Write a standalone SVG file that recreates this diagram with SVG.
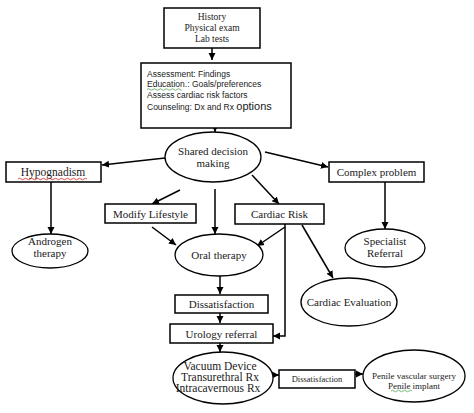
<svg xmlns="http://www.w3.org/2000/svg" width="474" height="413" viewBox="0 0 474 413">
<style>
.box{fill:#fff;stroke:#000;stroke-width:1.5}
.ell{fill:#fff;stroke:#000;stroke-width:1.3}
.t{font-family:"Liberation Serif","Times New Roman",serif;font-size:11px;fill:#1a1a1a;text-anchor:middle}
.s{font-family:"Liberation Sans",Arial,sans-serif;font-size:8.5px;fill:#1a1a1a}
.c{fill:none;stroke:#000;stroke-width:1.5}
</style>
<defs>
<marker id="ah" markerUnits="userSpaceOnUse" markerWidth="8" markerHeight="8" refX="7" refY="4" orient="auto">
<path d="M0,0.5 L7,4 L0,7.5 z" fill="#000"/>
</marker>
</defs>
<rect width="474" height="413" fill="#fff"/>
<g id="connectors">
<path class="c" d="M212,48 L212,60" marker-end="url(#ah)"/>
<path class="c" d="M215,126 L215,132" marker-end="url(#ah)"/>
<path class="c" d="M165,158 L102,165" marker-end="url(#ah)"/>
<path class="c" d="M265,152 L328,167" marker-end="url(#ah)"/>
<path class="c" d="M180,190 L152,204" marker-end="url(#ah)"/>
<path class="c" d="M215,189 L215,234" marker-end="url(#ah)"/>
<path class="c" d="M252,175 L279,204" marker-end="url(#ah)"/>
<path class="c" d="M51,182 L51,234" marker-end="url(#ah)"/>
<path class="c" d="M385,182 L385,229" marker-end="url(#ah)"/>
<path class="c" d="M152,227 L176,245" marker-end="url(#ah)"/>
<path class="c" d="M285,227 L257,246" marker-end="url(#ah)"/>
<path class="c" d="M302,225 L333,278" marker-end="url(#ah)"/>
<path class="c" d="M285,224 L285,336 L273,336" marker-end="url(#ah)"/>
<path class="c" d="M220,275 L220,294" marker-end="url(#ah)"/>
<path class="c" d="M220,313 L220,323" marker-end="url(#ah)"/>
<path class="c" d="M220,343 L220,352" marker-end="url(#ah)"/>
<path class="c" d="M272,375 L279,375" marker-end="url(#ah)"/>
<path class="c" d="M355,374 L363,374" marker-end="url(#ah)"/>
</g>
<g id="history">
<rect class="box" x="164" y="8" width="96" height="40"/>
<text class="t" style="font-size:9.5px" x="212" y="20">History</text>
<text class="t" style="font-size:9.5px" x="212" y="31">Physical exam</text>
<text class="t" style="font-size:9.5px" x="212" y="42">Lab tests</text>
</g>
<g id="assessment">
<rect class="box" x="141" y="63" width="150" height="65"/>
<text class="s" x="147" y="77">Assessment: Findings</text>
<text class="s" x="147" y="87">Education.: Goals/preferences</text>
<text class="s" x="147" y="98">Assess cardiac risk factors</text>
<text class="s" x="147" y="110">Counseling: Dx and Rx <tspan style="font-size:11px">options</tspan></text>
<path d="M147,89.5 q1.5,-1.5 3,0 t3,0 t3,0 t3,0 t3,0 t3,0 t3,0 t3,0 t3,0 t3,0 t3,0 t2,0" fill="none" stroke="#3c9a3c" stroke-width="0.7"/>
</g>
<g id="shared">
<ellipse class="ell" cx="213" cy="157" rx="48" ry="25"/>
<text class="t" x="213" y="155">Shared decision</text>
<text class="t" x="213" y="167">making</text>
</g>
<g id="hypogonadism">
<rect class="box" x="6" y="162" width="95" height="20"/>
<text class="t" x="53" y="176" style="font-size:11.5px">Hypognadism</text>
<path d="M18,179 q1.5,-1.5 3,0 t3,0 t3,0 t3,0 t3,0 t3,0 t3,0 t3,0 t3,0 t3,0 t3,0 t3,0 t3,0 t3,0 t3,0 t3,0 t3,0 t3,0 t3,0 t3,0 t3,0 t3,0 t3,0" fill="none" stroke="#d02020" stroke-width="0.8"/>
</g>
<g id="complex">
<rect class="box" x="329" y="162" width="95" height="20"/>
<text class="t" x="376.5" y="176">Complex problem</text>
</g>
<g id="modify">
<rect class="box" x="105" y="204" width="91" height="19"/>
<text class="t" x="150.5" y="217.5">Modify Lifestyle</text>
</g>
<g id="cardiacrisk">
<rect class="box" x="235" y="204" width="89" height="20"/>
<text class="t" x="279.5" y="218">Cardiac Risk</text>
</g>
<g id="androgen">
<ellipse class="ell" cx="50" cy="251" rx="38" ry="17"/>
<text class="t" x="50" y="245">Androgen</text>
<text class="t" x="50" y="257">therapy</text>
</g>
<g id="specialist">
<ellipse class="ell" cx="385" cy="248" rx="40" ry="19"/>
<text class="t" x="385" y="245">Specialist</text>
<text class="t" x="385" y="257">Referral</text>
</g>
<g id="oral">
<ellipse class="ell" cx="219" cy="255" rx="44" ry="21"/>
<text class="t" x="219" y="259">Oral therapy</text>
</g>
<g id="cardiaceval">
<ellipse class="ell" cx="349" cy="302" rx="48" ry="24"/>
<text class="t" x="349" y="306">Cardiac Evaluation</text>
</g>
<g id="dissatisfaction1">
<rect class="box" x="175" y="295" width="93" height="18"/>
<text class="t" x="221.5" y="308">Dissatisfaction</text>
</g>
<g id="urology">
<rect class="box" x="170" y="324" width="103" height="19"/>
<text class="t" x="221.5" y="337.5">Urology referral</text>
</g>
<g id="vacuum">
<ellipse class="ell" cx="223" cy="378" rx="50" ry="26"/>
<text class="t" x="220" y="370" style="font-size:11.5px">Vacuum Device</text>
<text class="t" x="220" y="381" style="font-size:11.5px">Transurethral Rx</text>
<text class="t" x="218" y="392" style="font-size:11.5px">Intracavernous Rx</text>
</g>
<g id="dissatisfaction2">
<rect class="box" x="279" y="370" width="76" height="18"/>
<text class="t" x="317" y="382" style="font-size:8.5px">Dissatisfaction</text>
</g>
<g id="penile">
<ellipse class="ell" cx="414" cy="376" rx="51" ry="26"/>
<text class="t" x="414" y="379" style="font-size:9px">Penile vascular surgery</text>
<text class="t" x="414" y="389" style="font-size:9px">Penile implant</text>
<path d="M391,391 q1.5,-1.5 3,0 t3,0 t3,0 t3,0 t3,0 t3,0 t3,0" fill="none" stroke="#3c9a3c" stroke-width="0.7"/>
</g>
</svg>
